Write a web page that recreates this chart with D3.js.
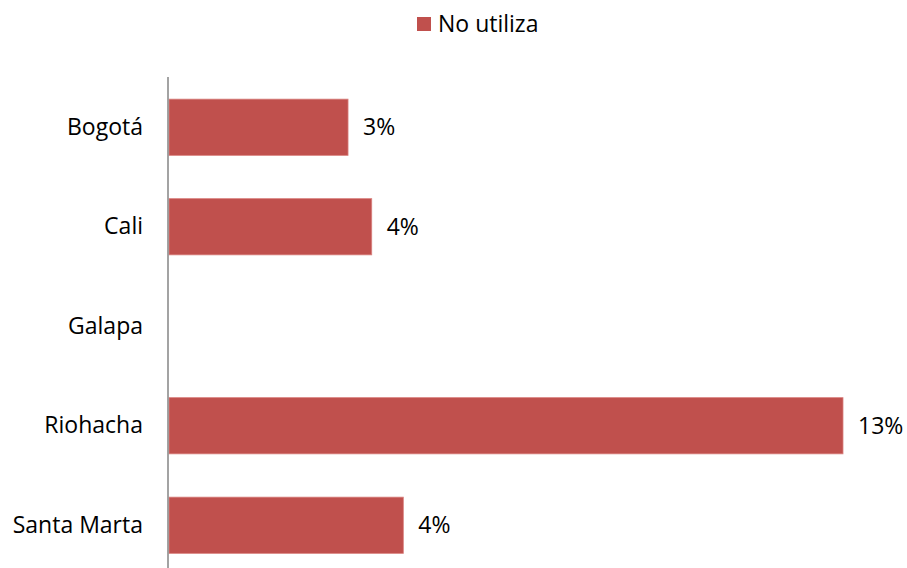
<!DOCTYPE html>
<html><head><meta charset="utf-8">
<script src="https://cdn.jsdelivr.net/npm/d3@7"></script>
<style>body{margin:0;background:#fff}svg{display:block}text{font-family:"Open Sans",sans-serif;fill:#000}</style>
</head><body>
<script>
const categories = ["Bogotá", "Cali", "Galapa", "Riohacha", "Santa Marta"];
const values = [3.4, 3.85, null, 12.8, 4.45];
const seriesName = "No utiliza";
const color = "#C0504D";

const W = 907, H = 568;
const FS = 23;
const svg = d3.select("body").append("svg").attr("width", W).attr("height", H);

const x = d3.scaleLinear().domain([0, 12.8]).range([169, 843]);
const y = d3.scaleBand().domain(categories).range([77.5, 575]).paddingInner(0.435).paddingOuter(0.2175);

const rows = categories.map((c,i)=>({c, v: values[i]})).filter(d=>d.v!=null);

svg.selectAll("rect.bar").data(rows)
  .enter().append("rect").attr("class","bar")
  .attr("x", x(0)).attr("y", d=>y(d.c)).attr("width", d=>x(d.v)-x(0)).attr("height", y.bandwidth())
  .attr("fill", color).attr("stroke", "#d9817e").attr("stroke-width", 0.8);

svg.selectAll("text.lbl").data(rows)
  .enter().append("text").attr("class","lbl")
  .attr("x", d=>x(d.v)+15).attr("y", d=>y(d.c)+y.bandwidth()/2).attr("dy","0.35em")
  .attr("font-size", FS).text(d=>Math.round(d.v)+"%");

const axis = svg.append("g").attr("transform", `translate(${x(0)-1},0)`)
  .call(d3.axisLeft(y).tickSize(0).tickPadding(25));
axis.select(".domain").attr("stroke", "#8c8c8c").attr("stroke-width", 1.6).attr("d", "M0,77V568");
axis.selectAll("text").attr("font-size", FS).style("font-family", "'Open Sans',sans-serif").attr("fill","#000");

const lg = svg.append("g");
lg.append("rect").attr("x", 417).attr("y", 17).attr("width", 14).attr("height", 14).attr("fill", color);
lg.append("text").attr("x", 438).attr("y", 24).attr("dy","0.35em").attr("font-size", FS).text(seriesName);
</script>
</body></html>
